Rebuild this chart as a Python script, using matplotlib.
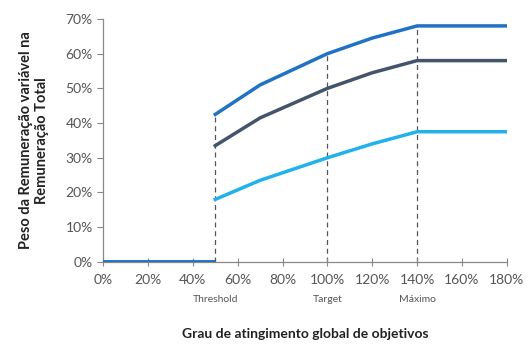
import matplotlib.pyplot as plt
from matplotlib.ticker import PercentFormatter

plt.rcParams['font.family'] = ['Lato', 'DejaVu Sans']

# x: grau de atingimento (%), y: peso da remuneração variável (%)
x_zero = [0, 50]
y_zero = [0, 0]
x_pts = [50, 70, 100, 120, 140, 180]
serie_alta = [42.5, 51, 60, 64.5, 68, 68]
serie_media = [33.5, 41.5, 50, 54.5, 58, 58]
serie_baixa = [18, 23.5, 30, 34, 37.5, 37.5]

marcos_x = [50, 100, 140]
marcos_lbl = ['Threshold', 'Target', 'Máximo']

fig = plt.figure(figsize=(5.29, 3.45), dpi=100)
ax = fig.add_axes([0.195, 0.241, 0.763, 0.704])

c_alta = '#1f72c4'
c_media = '#44546a'
c_baixa = '#21b2ec'

# linhas verticais tracejadas até a curva superior
for mx in marcos_x:
    top = serie_alta[x_pts.index(mx)]
    ax.plot([mx, mx], [0, top], color='#555555', lw=0.9, ls=(0, (4, 3)), zorder=1)

ax.plot(x_zero, y_zero, color=c_alta, lw=2.8, solid_capstyle='butt', zorder=3)
ax.plot(x_pts, serie_alta, color=c_alta, lw=2.5, zorder=3)
ax.plot(x_pts, serie_media, color=c_media, lw=2.5, zorder=3)
ax.plot(x_pts, serie_baixa, color=c_baixa, lw=2.5, zorder=3)

ax.set_xlim(0, 180)
ax.set_ylim(0, 70)
ax.set_xticks(range(0, 181, 20))
ax.set_yticks(range(0, 71, 10))
ax.xaxis.set_major_formatter(PercentFormatter(decimals=0))
ax.yaxis.set_major_formatter(PercentFormatter(decimals=0))

for s in ['top', 'right']:
    ax.spines[s].set_visible(False)
for s in ['left', 'bottom']:
    ax.spines[s].set_color('#888888')
    ax.spines[s].set_linewidth(0.9)
ax.tick_params(axis='both', colors='#888888', labelcolor='#555555', labelsize=10, length=4)
ax.tick_params(axis='x', direction='inout', length=6, pad=6)

for mx, lbl in zip(marcos_x, marcos_lbl):
    ax.text(mx, -0.155, lbl, transform=ax.get_xaxis_transform(), ha='center', va='center',
            fontsize=7.5, color='#555555')

ax.set_xlabel('Grau de atingimento global de objetivos', fontsize=10, fontweight='bold',
              color='#222222', labelpad=30)
ax.set_ylabel('Peso da Remuneração variável na\nRemuneração Total', fontsize=10.5,
              fontweight='bold', color='#222222', labelpad=12, multialignment='center')

fig.savefig('out.png', dpi=100)
